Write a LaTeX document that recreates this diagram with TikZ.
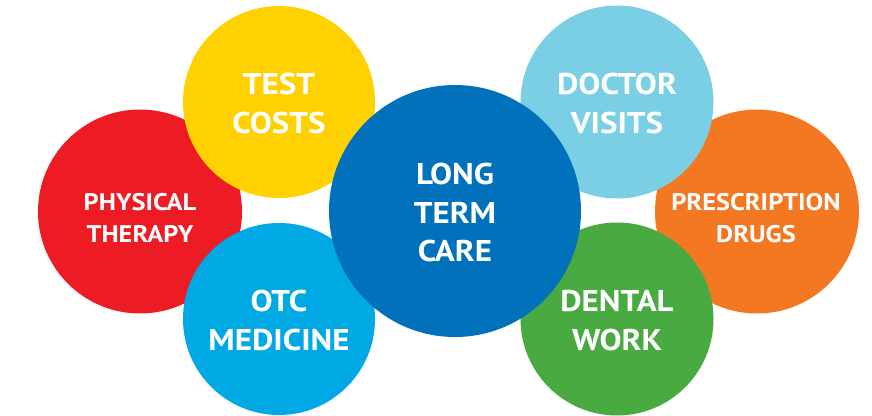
\documentclass[tikz,border=0pt]{standalone}
\usepackage{fontspec}
\setmainfont{PT Sans}
\newfontfamily\bubblefont[FakeStretch=1.1]{PT Sans Bold}
\definecolor{cRed}{HTML}{ED1C24}
\definecolor{cYellow}{HTML}{FFD100}
\definecolor{cCyan}{HTML}{00A9E4}
\definecolor{cBlue}{HTML}{0071BA}
\definecolor{cLight}{HTML}{7BCFE4}
\definecolor{cOrange}{HTML}{F47822}
\definecolor{cGreen}{HTML}{4AAA42}
\tikzset{
  bubble/.style={circle, inner sep=0pt, draw=none},
  bigtxt/.style={text=white, align=center, inner sep=0pt, font=\bubblefont\fontsize{30}{38.5}\selectfont},
  smalltxt/.style={text=white, align=center, inner sep=0pt, font=\bubblefont\fontsize{24}{32}\selectfont},
}
\begin{document}
\begin{tikzpicture}[x=1pt,y=-1pt]
\useasboundingbox (0,0) rectangle (872,415);
% outer back circles
\node[bubble, fill=cRed, minimum size=204pt] (red) at (140,211.5) {};
\node[bubble, fill=cOrange, minimum size=204pt] (orange) at (757,211.5) {};
% middle circles
\node[bubble, fill=cYellow, minimum size=192pt] (yellow) at (279,102) {};
\node[bubble, fill=cCyan, minimum size=192pt] (cyan) at (279,319) {};
\node[bubble, fill=cLight, minimum size=193pt] (light) at (617,102) {};
\node[bubble, fill=cGreen, minimum size=193pt] (green) at (617,319) {};
% centre
\node[bubble, fill=cBlue, minimum size=252pt] (blue) at (455,211) {};
% labels
\node[smalltxt] (tred) at (140,218) {PHYSICAL\\THERAPY};
\node[smalltxt] (torange) at (756,218) {PRESCRIPTION\\DRUGS};
\node[bigtxt] (tyellow) at (279,103.5) {TEST\\COSTS};
\node[bigtxt] (tcyan) at (279,320.5) {OTC\\MEDICINE};
\node[bigtxt] (tlight) at (617,103.5) {DOCTOR\\VISITS};
\node[bigtxt] (tgreen) at (617,320.5) {DENTAL\\WORK};
\node[bigtxt] (tblue) at (455,212.5) {LONG\\TERM\\CARE};
\end{tikzpicture}
\end{document}
